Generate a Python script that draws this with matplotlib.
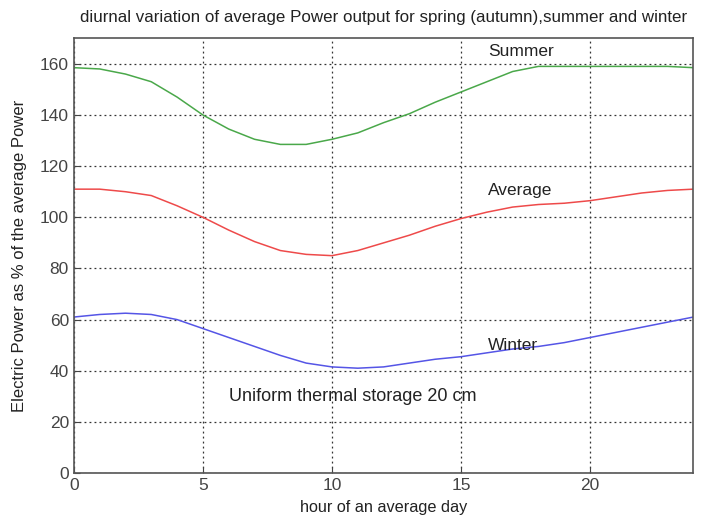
import numpy as np
import matplotlib
matplotlib.use("Agg")
from matplotlib import pyplot as plt

plt.rcParams['font.family'] = ['Liberation Sans', 'DejaVu Sans']

hours = list(range(0, 25))
summer = [158.5, 158, 156, 153, 147, 140, 134.5, 130.5, 128.5, 128.5, 130.5, 133, 137,
          140.5, 145, 149, 153, 157, 159, 159, 159, 159, 159, 159, 158.5]
average = [111, 111, 110, 108.5, 104.5, 100, 95, 90.5, 87, 85.5, 85, 87, 90,
           93, 96.5, 99.5, 102, 104, 105, 105.5, 106.5, 108, 109.5, 110.5, 111]
winter = [61, 62, 62.5, 62, 60, 56.5, 53, 49.5, 46, 43, 41.5, 41, 41.5,
          43, 44.5, 45.5, 47, 48.5, 49.5, 51, 53, 55, 57, 59, 61]

fig = plt.figure(figsize=(7.17, 5.17), dpi=100)
ax = fig.add_axes([0.103, 0.085, 0.864, 0.841])

ax.plot(hours, summer, color='#4aa84a', lw=1.1)
ax.plot(hours, average, color='#ee4a4a', lw=1.1)
ax.plot(hours, winter, color='#5555e6', lw=1.1)

note = dict(fontsize=12.5, color='#222222', va='center')
ax.text(16.05, 165, 'Summer', **note)
ax.text(16.05, 110.5, 'Average', **note)
ax.text(16.05, 50, 'Winter', **note)
ax.text(6.0, 30, 'Uniform thermal storage 20 cm', fontsize=13, color='#222222', va='center')

ax.set_xlim(0, 24)
ax.set_ylim(0, 170)
ax.set_xticks([0, 5, 10, 15, 20])
ax.set_yticks(np.arange(0, 161, 20))
ax.grid(True, color='#333333', linestyle=(0, (1.5, 2.5)), linewidth=0.9)
ax.tick_params(direction='in', length=4, labelsize=12.5, colors='#444444')
for s in ax.spines.values():
    s.set_color('#555555')
    s.set_linewidth(1.2)

ax.set_title('diurnal variation of average Power output for spring (autumn),summer and winter',
             fontsize=12.2, color='#222222', pad=12)
ax.set_xlabel('hour of an average day', fontsize=11.7, color='#222222', labelpad=5)
ax.set_ylabel('Electric Power as % of the average Power', fontsize=12, color='#222222', labelpad=9)

fig.savefig('out.png', dpi=100)
